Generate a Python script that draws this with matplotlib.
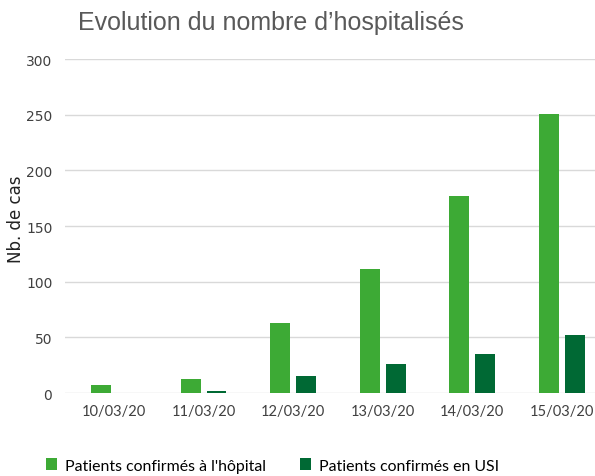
import matplotlib.pyplot as plt
import numpy as np

dates = ['10/03/20', '11/03/20', '12/03/20', '13/03/20', '14/03/20', '15/03/20']
hopital = [7, 13, 63, 111, 177, 251]
usi = [0, 2, 15, 26, 35, 52]

green = '#3DAA35'
dark = '#006934'

fig = plt.figure(figsize=(5.95, 4.77), dpi=100)
ax = fig.add_axes([0.109, 0.174, 0.891, 0.700])

x = np.arange(len(dates))
w = 0.22
ax.bar(x - 0.145, hopital, w, color=green, label="Patients confirmés à l'hôpital", zorder=3)
ax.bar(x + 0.145, usi, w, color=dark, label='Patients confirmés en USI', zorder=3)

ax.set_ylim(0, 300)
ax.set_xlim(-0.55, 5.37)
ax.set_yticks(range(0, 301, 50))
ax.set_xticks(x)
ax.set_xticklabels(dates, fontsize=10.5, color='#404040', family='Lato')
ax.tick_params(axis='y', labelsize=10, colors='#404040', length=0, pad=9)
ax.tick_params(axis='x', length=0, pad=8)
ax.grid(axis='y', color='#d9d9d9', linewidth=1, zorder=0)
for s in ax.spines.values():
    s.set_visible(False)

fig.text(0.027, 0.54, 'Nb. de cas', fontsize=12, color='#222222',
         rotation=90, ha='center', va='center')
fig.text(0.131, 0.952, 'Evolution du nombre d\u2019hospitalisés', fontsize=18,
         color='#595959', family='Liberation Sans', va='center')

fig.legend(loc='center', bbox_to_anchor=(0.458, 0.022), ncol=2, frameon=False,
           prop={'family': 'Lato', 'size': 11.4}, handlelength=0.7, handleheight=0.7,
           columnspacing=2.2, handletextpad=0.45)

plt.savefig('out.png')
